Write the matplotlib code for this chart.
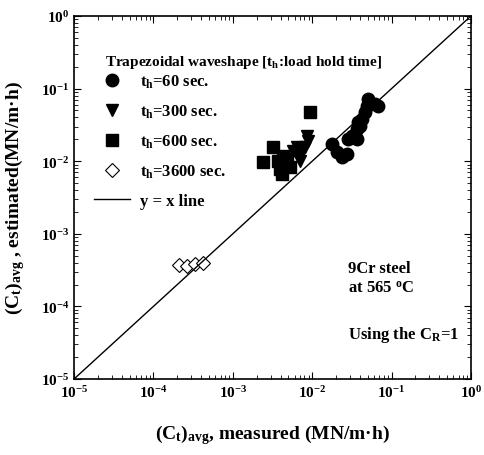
import numpy as np
import matplotlib.pyplot as plt

# t_h = 60 sec (filled circles)
c60_x = [0.0176, 0.0204, 0.0236, 0.0272, 0.0282, 0.0314, 0.0363, 0.0363, 0.0377, 0.040,
         0.042, 0.0462, 0.0486, 0.0504, 0.0618, 0.0674]
c60_y = [0.0173, 0.0134, 0.0114, 0.0126, 0.0202, 0.0225, 0.0202, 0.0278, 0.0347, 0.0308,
         0.0381, 0.0476, 0.058, 0.0719, 0.0614, 0.0576]

# t_h = 300 sec (filled down triangles)
c300_x = [0.00573, 0.00662, 0.00744, 0.00811, 0.00885, 0.00861, 0.00702, 0.00644]
c300_y = [0.0138, 0.0118, 0.0134, 0.0157, 0.019, 0.0222, 0.0101, 0.0157]

# t_h = 600 sec (filled squares)
c600_x = [0.00242, 0.00324, 0.00938, 0.00374, 0.00393, 0.00413, 0.00454, 0.00477, 0.00433, 0.00525]
c600_y = [0.00966, 0.0155, 0.0472, 0.0102, 0.00782, 0.00667, 0.00867, 0.0107, 0.0119, 0.0083]

# t_h = 3600 sec (open diamonds)
c3600_x = [2.1e-4, 2.65e-4, 3.34e-4, 4.2e-4]
c3600_y = [3.7e-4, 3.6e-4, 3.84e-4, 3.96e-4]

line_xy = [1e-5, 1e0]
tick_vals = [1e-5, 1e-4, 1e-3, 1e-2, 1e-1, 1e0]
tick_labels = [r'10$^{-5}$', r'10$^{-4}$', r'10$^{-3}$', r'10$^{-2}$', r'10$^{-1}$', r'10$^{0}$']

plt.rcParams['font.family'] = ['Liberation Serif', 'DejaVu Serif']
plt.rcParams['mathtext.fontset'] = 'custom'
plt.rcParams['mathtext.rm'] = 'Liberation Serif:bold'
plt.rcParams['mathtext.it'] = 'Liberation Serif:bold'
plt.rcParams['mathtext.bf'] = 'Liberation Serif:bold'

fig = plt.figure(figsize=(4.84, 4.56), dpi=100)
ax = fig.add_axes([0.153, 0.1667, 0.82, 0.796])

ax.plot(c60_x, c60_y, 'o', color='black', markersize=9, label=r'$t_h$=60 sec.')
ax.plot(c300_x, c300_y, 'v', color='black', markersize=9, label=r'$t_h$=300 sec.')
ax.plot(c600_x, c600_y, 's', color='black', markersize=8, label=r'$t_h$=600 sec.')
ax.plot(c3600_x, c3600_y, 'D', markerfacecolor='white', markeredgecolor='black',
        markersize=7, markeredgewidth=0.8, label=r'$t_h$=3600 sec.')
ax.plot(line_xy, line_xy, '-', color='black', linewidth=1.0, label='y = x line')

ax.set_xscale('log')
ax.set_yscale('log')
ax.set_xlim(1e-5, 1e0)
ax.set_ylim(1e-5, 1e0)
ax.set_xticks(tick_vals)
ax.set_xticklabels(tick_labels)
ax.set_yticks(tick_vals)
ax.set_yticklabels(tick_labels)
ax.tick_params(which='both', direction='in', top=True, right=True, labelsize=11)
ax.tick_params(which='major', length=5)
ax.tick_params(which='minor', length=3)
for lab in ax.get_xticklabels() + ax.get_yticklabels():
    lab.set_fontweight('bold')
for sp in ax.spines.values():
    sp.set_linewidth(1.2)

ax.set_xlabel(r'(C$_t$)$_{avg}$, measured (MN/m·h)', fontsize=14, fontweight='bold', labelpad=16)
ax.set_ylabel(r'(C$_t$)$_{avg}$ , estimated(MN/m·h)', fontsize=14, fontweight='bold', labelpad=10)

leg = ax.legend(loc='upper left', bbox_to_anchor=(0.02, 0.875), frameon=False,
                prop={'weight': 'bold', 'size': 12}, handletextpad=0.6,
                labelspacing=0.75, handlelength=2.2, borderaxespad=0.3)
ax.text(0.078, 0.876, r'Trapezoidal waveshape [$t_h$:load hold time]', transform=ax.transAxes,
        fontsize=11, fontweight='bold', va='center')

ax.text(0.69, 0.278, '9Cr steel\nat 565 $^{o}$C', transform=ax.transAxes,
        fontsize=12, fontweight='bold', va='center', linespacing=1.3)
ax.text(0.69, 0.124, r'Using the C$_R$=1', transform=ax.transAxes,
        fontsize=12, fontweight='bold', va='center')

fig.savefig('out.png', dpi=100)
